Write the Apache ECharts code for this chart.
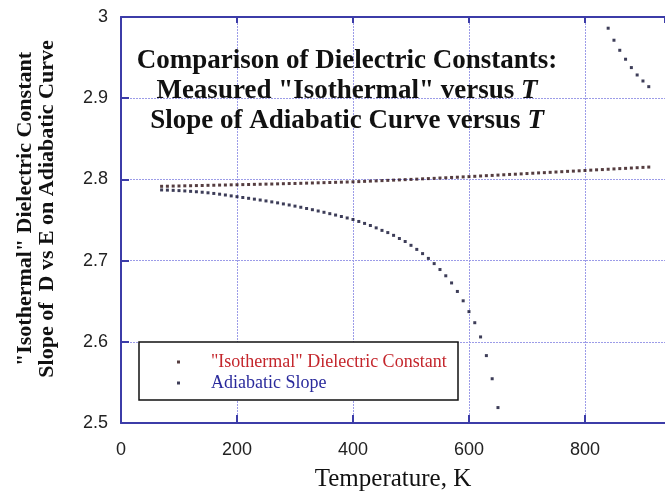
<!DOCTYPE html>
<html><head><meta charset="utf-8">
<script src="https://cdn.jsdelivr.net/npm/echarts@6/dist/echarts.min.js"></script>
<style>html,body{margin:0;padding:0;background:#fff}#c{width:665px;height:495px}</style>
</head><body><div id="c"></div>
<script>
const xTickValues = [0, 200, 400, 600, 800];
const yTickValues = [2.5, 2.6, 2.7, 2.8, 2.9, 3];

const isoT = [70,80,90,100,110,120,130,140,150,160,170,180,190,200,210,220,230,240,250,260,
  270,280,290,300,310,320,330,340,350,360,370,380,390,400,410,420,430,440,450,460,
  470,480,490,500,510,520,530,540,550,560,570,580,590,600,610,620,630,640,650,660,
  670,680,690,700,710,720,730,740,750,760,770,780,790,800,810,820,830,840,850,860,
  870,880,890,900,910];
const isoV = [2.7915,2.7916,2.7918,2.7919,2.7921,2.7922,2.7924,2.7925,2.7927,2.7928,
  2.7930,2.7931,2.7933,2.7934,2.7936,2.7937,2.7939,2.7940,2.7942,2.7943,
  2.7945,2.7947,2.7949,2.7950,2.7952,2.7954,2.7956,2.7958,2.7960,2.7962,
  2.7964,2.7966,2.7968,2.7970,2.7973,2.7976,2.7979,2.7982,2.7985,2.7988,
  2.7991,2.7994,2.7997,2.8000,2.8003,2.8007,2.8010,2.8013,2.8017,2.8020,
  2.8024,2.8027,2.8031,2.8034,2.8038,2.8042,2.8046,2.8049,2.8053,2.8057,
  2.8061,2.8064,2.8068,2.8072,2.8076,2.8080,2.8083,2.8087,2.8091,2.8095,
  2.8099,2.8102,2.8106,2.8110,2.8114,2.8118,2.8121,2.8125,2.8129,2.8133,
  2.8136,2.8140,2.8144,2.8148,2.8152];

const adiaT = [70,80,90,100,110,120,130,140,150,160,170,180,190,200,210,220,230,240,250,260,
  270,280,290,300,310,320,330,340,350,360,370,380,390,400,410,420,430,440,450,460,
  470,480,490,500,510,520,530,540,550,560,570,580,590,600,610,620,630,640,650,
  840,850,860,870,880,890,900,910];
const adiaV = [2.7870,2.7868,2.7865,2.7862,2.7858,2.7853,2.7848,2.7842,2.7835,2.7827,
  2.7818,2.7808,2.7797,2.7787,2.7777,2.7767,2.7757,2.7746,2.7735,2.7723,
  2.7711,2.7698,2.7685,2.7671,2.7657,2.7642,2.7627,2.7611,2.7595,2.7578,
  2.7561,2.7543,2.7525,2.7506,2.7482,2.7458,2.7432,2.7403,2.7372,2.7345,
  2.7311,2.7272,2.7235,2.7188,2.7138,2.7086,2.7027,2.6963,2.6890,2.6813,
  2.6725,2.6620,2.6505,2.6372,2.6235,2.6060,2.5830,2.5545,2.5190,
  2.9862,2.9714,2.9590,2.9480,2.9377,2.9286,2.9212,2.9142];

const seriesNames = ['"Isothermal" Dielectric Constant', 'Adiabatic Slope'];

const axisColor = '#3c3ca8';
const gridColor = '#9c9ce8';
const serif = '"Liberation Serif", "Times New Roman", serif';
const sans = '"Liberation Sans", Arial, sans-serif';

const chart = echarts.init(document.getElementById('c'), null, {renderer: 'canvas'});
chart.setOption({
  animation: false,
  backgroundColor: '#fff',
  grid: {left: 121, right: 0, top: 17, bottom: 72, containLabel: false, outerBoundsMode: 'none'},
  xAxis: [{
    type: 'value', min: 0, max: 938, interval: 200,
    name: 'Temperature, K', nameLocation: 'middle', nameGap: 44,
    nameTextStyle: {fontFamily: serif, fontSize: 25, color: '#111'},
    axisLine: {show: true, lineStyle: {color: axisColor, width: 2}},
    axisTick: {show: true, inside: true, length: 8, lineStyle: {color: axisColor, width: 2}},
    axisLabel: {showMaxLabel: false, margin: 18, fontFamily: sans, fontSize: 18, color: '#222',
      formatter: v => xTickValues.includes(v) ? String(v) : ''},
    splitLine: {show: true, lineStyle: {color: gridColor, width: 1, type: [2, 1]}}
  }, {
    type: 'value', position: 'top', min: 0, max: 938, interval: 200,
    axisLine: {show: true, onZero: false, lineStyle: {color: axisColor, width: 2}},
    axisTick: {show: true, inside: true, length: 6, lineStyle: {color: axisColor, width: 2}},
    axisLabel: {show: false}, splitLine: {show: false}
  }],
  yAxis: [{
    type: 'value', min: 2.5, max: 3, interval: 0.1,
    axisLine: {show: true, lineStyle: {color: axisColor, width: 2}},
    axisTick: {show: true, inside: true, length: 8, lineStyle: {color: axisColor, width: 2}},
    axisLabel: {margin: 13, fontFamily: sans, fontSize: 18, color: '#222',
      formatter: v => {
        const m = yTickValues.find(t => Math.abs(t - v) < 1e-6);
        return m === undefined ? '' : String(m);
      }},
    splitLine: {show: true, lineStyle: {color: gridColor, width: 1, type: [2, 1]}}
  }],
  legend: {
    orient: 'vertical', left: 177, top: 352, padding: 0, itemWidth: 3, itemHeight: 3, itemGap: 1,
    icon: 'rect', z: 10,
    textStyle: {fontFamily: serif, fontSize: 18, lineHeight: 20, padding: [0, 0, 0, 26]},
    data: [
      {name: seriesNames[0], textStyle: {color: '#c4262c'}},
      {name: seriesNames[1], textStyle: {color: '#2a2a9c'}}
    ]
  },
  graphic: [
    {type: 'rect', z: 5, shape: {x: 139, y: 342, width: 319, height: 58},
      style: {fill: '#fff', stroke: '#111', lineWidth: 1.5}},
    {type: 'text', z: 6, x: 347, y: 46,
      style: {
        text: '{b|Comparison of Dielectric Constants:}\n{b|Measured "Isothermal" versus }{i|T}\n{b|Slope of Adiabatic Curve versus }{i|T}',
        align: 'center', verticalAlign: 'top',
        rich: {
          b: {fontFamily: serif, fontWeight: 'bold', fontSize: 27, lineHeight: 30, fill: '#111'},
          i: {fontFamily: serif, fontWeight: 'bold', fontStyle: 'italic', fontSize: 27, lineHeight: 30, fill: '#111'}
        }
      }},
    {type: 'text', z: 6, x: 36, y: 209, rotation: Math.PI / 2,
      style: {
        text: '"Isothermal" Dielectric Constant\nSlope of  D vs E on Adiabatic Curve',
        align: 'center', verticalAlign: 'middle',
        fontFamily: serif, fontWeight: 'bold', fontSize: 22, lineHeight: 22, fill: '#111'
      }}
  ],
  series: [
    {name: seriesNames[0], type: 'scatter', symbol: 'rect', symbolSize: 3,
      itemStyle: {color: '#2a0c10'}, data: isoT.map((t, i) => [t, isoV[i]])},
    {name: seriesNames[1], type: 'scatter', symbol: 'rect', symbolSize: 3,
      itemStyle: {color: '#0c0c2e'}, data: adiaT.map((t, i) => [t, adiaV[i]])}
  ]
});
</script></body></html>
